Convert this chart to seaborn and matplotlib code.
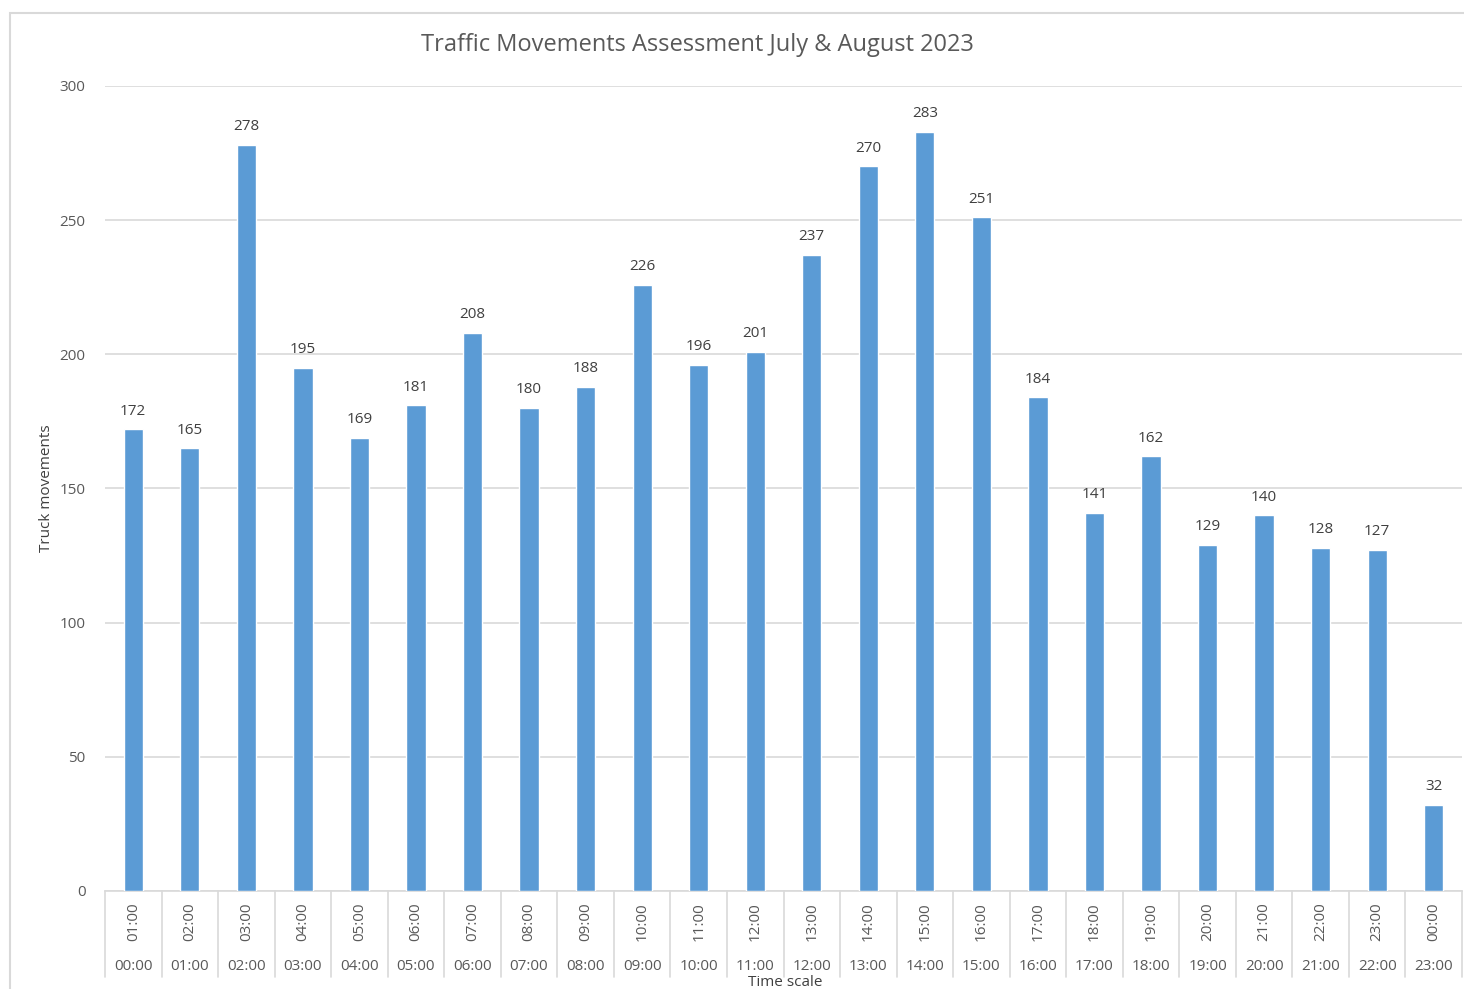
import matplotlib
matplotlib.use("Agg")
import pandas as pd
import seaborn as sns
from matplotlib import pyplot as plt
from matplotlib import transforms
from matplotlib.patches import Rectangle

hour_to = ["01:00", "02:00", "03:00", "04:00", "05:00", "06:00", "07:00", "08:00",
           "09:00", "10:00", "11:00", "12:00", "13:00", "14:00", "15:00", "16:00",
           "17:00", "18:00", "19:00", "20:00", "21:00", "22:00", "23:00", "00:00"]
hour_from = ["00:00", "01:00", "02:00", "03:00", "04:00", "05:00", "06:00", "07:00",
             "08:00", "09:00", "10:00", "11:00", "12:00", "13:00", "14:00", "15:00",
             "16:00", "17:00", "18:00", "19:00", "20:00", "21:00", "22:00", "23:00"]
movements = [172, 165, 278, 195, 169, 181, 208, 180, 188, 226, 196, 201,
             237, 270, 283, 251, 184, 141, 162, 129, 140, 128, 127, 32]

df = pd.DataFrame({"slot": [f"{a}-{b}" for a, b in zip(hour_from, hour_to)],
                   "movements": movements})

sns.set_style("white")
plt.rcParams["font.family"] = ["Open Sans", "DejaVu Sans"]
grey = "#595959"
line_c = "#d9d9d9"

fig = plt.figure(figsize=(14.64, 9.89), dpi=100)
ax = fig.add_axes([105 / 1464, 1 - 891 / 989, (1462 - 105) / 1464, (891 - 86) / 989])

sns.barplot(data=df, x="slot", y="movements", color="#5B9BD5", width=0.34,
            saturation=1, ax=ax, zorder=3)

ax.set_ylim(0, 300)
ax.set_xlim(-0.5, len(movements) - 0.5)
ax.set_yticks(range(0, 301, 50))
ax.tick_params(axis="y", length=0, pad=14, labelsize=11, labelcolor=grey)
ax.grid(axis="y", color=line_c, linewidth=1.2, zorder=0)
ax.set_xticks([])
ax.set_xlabel("")
ax.set_ylabel("")
for s in ["top", "right", "left"]:
    ax.spines[s].set_visible(False)
ax.spines["bottom"].set_color(line_c)
ax.spines["bottom"].set_linewidth(1.2)

# value labels
for i, v in enumerate(movements):
    ax.text(i, v + 4, str(v), ha="center", va="bottom", fontsize=11, color="#404040")

# two-level category axis
tr = transforms.blended_transform_factory(ax.transData, ax.transAxes)
h = (891 - 86)
for i in range(len(movements)):
    ax.text(i, -(922 - 891) / h, hour_to[i], rotation=90, ha="center", va="center",
            fontsize=11, color=grey, transform=tr, clip_on=False)
    ax.text(i, -(966 - 891) / h, hour_from[i], ha="center", va="center",
            fontsize=11, color=grey, transform=tr, clip_on=False)
for i in range(len(movements) + 1):
    ax.plot([i - 0.5, i - 0.5], [0, -(977 - 891) / h], color=line_c, lw=1.2,
            transform=tr, clip_on=False)

fig.text(697 / 1464, 1 - 45 / 989, "Traffic Movements Assessment July & August 2023",
         ha="center", va="center", fontsize=17, color=grey)
fig.text(46 / 1464, 1 - 488 / 989, "Truck movements", rotation=90,
         ha="center", va="center", fontsize=11, color="#404040")
fig.text(785 / 1464, 1 - 982 / 989, "Time scale", ha="center", va="center",
         fontsize=11, color="#404040")

fig.patches.append(Rectangle((10 / 1464, -0.05), 1.1, 1 - 13 / 989 + 0.05,
                             transform=fig.transFigure, fill=False,
                             edgecolor=line_c, linewidth=1.5))

fig.savefig("out.png", dpi=100, facecolor="white")
